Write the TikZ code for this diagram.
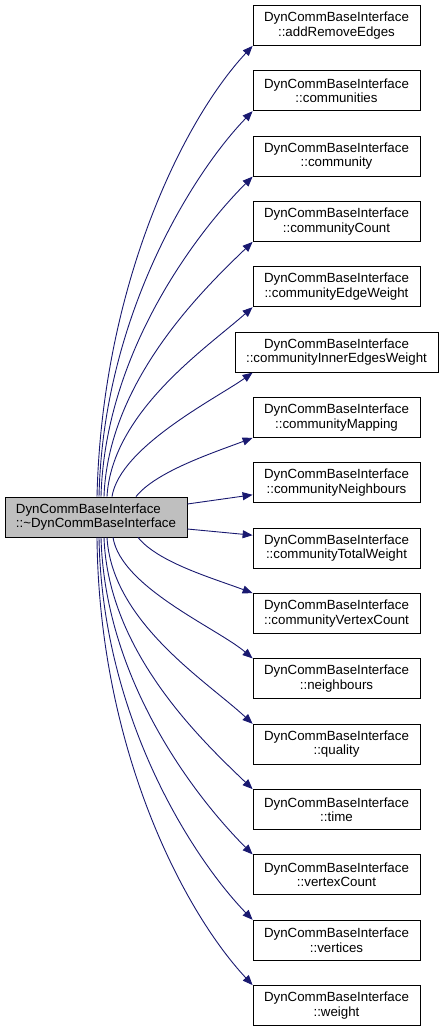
\documentclass[tikz,border=0pt]{standalone}
\usepackage{fontspec}
\setmainfont{Liberation Sans}
\usetikzlibrary{arrows.meta}
\definecolor{edgeblue}{HTML}{191970}
\definecolor{rootgray}{HTML}{BFBFBF}
\tikzset{
  fn/.style={draw=black, line width=0.8pt, fill=white, minimum width=167pt, minimum height=40pt, inner sep=0pt, align=center, font=\fontsize{13.3pt}{14.5pt}\selectfont},
  widefn/.style={fn, minimum width=203pt},
  rootfn/.style={fn, fill=rootgray, minimum width=182pt, align=left},
  edge/.style={draw=edgeblue, line width=0.9pt, -{Triangle[length=10pt,width=8pt]}},
}
\begin{document}
\begin{tikzpicture}[x=1pt,y=-1pt]
\useasboundingbox (0,0) rectangle (443,1032);
\node[rootfn] (L) at (96,517) {DynCommBaseInterface\\::\textasciitilde DynCommBaseInterface};
\node[fn] (t0) at (336.5,25.5) {DynCommBaseInterface\\::addRemoveEdges};
\node[fn] (t1) at (336.5,90.8) {DynCommBaseInterface\\::communities};
\node[fn] (t2) at (336.5,156.2) {DynCommBaseInterface\\::community};
\node[fn] (t3) at (336.5,221.5) {DynCommBaseInterface\\::communityCount};
\node[fn] (t4) at (336.5,286.8) {DynCommBaseInterface\\::communityEdgeWeight};
\node[widefn] (t5) at (336.5,352.2) {DynCommBaseInterface\\::communityInnerEdgesWeight};
\node[fn] (t6) at (336.5,417.5) {DynCommBaseInterface\\::communityMapping};
\node[fn] (t7) at (336.5,482.8) {DynCommBaseInterface\\::communityNeighbours};
\node[fn] (t8) at (336.5,548.2) {DynCommBaseInterface\\::communityTotalWeight};
\node[fn] (t9) at (336.5,613.5) {DynCommBaseInterface\\::communityVertexCount};
\node[fn] (t10) at (336.5,678.8) {DynCommBaseInterface\\::neighbours};
\node[fn] (t11) at (336.5,744.2) {DynCommBaseInterface\\::quality};
\node[fn] (t12) at (336.5,809.5) {DynCommBaseInterface\\::time};
\node[fn] (t13) at (336.5,874.8) {DynCommBaseInterface\\::vertexCount};
\node[fn] (t14) at (336.5,940.2) {DynCommBaseInterface\\::vertices};
\node[fn] (t15) at (336.5,1005.5) {DynCommBaseInterface\\::weight};
% upper fan
\draw[edge] ([xshift=1pt]L.north) .. controls +(5,-210) and +(-70,75) .. (t0.south west);
\draw[edge] ([xshift=3pt]L.north) .. controls +(4,-180) and +(-60,62) .. (t1.south west);
\draw[edge] ([xshift=5pt]L.north) .. controls +(4,-145) and +(-55,55) .. (t2.south west);
\draw[edge] ([xshift=8pt]L.north) .. controls +(4,-115) and +(-50,48) .. (t3.south west);
\draw[edge] ([xshift=11pt]L.north) .. controls +(5,-85) and +(-45,40) .. (t4.south west);
\draw[edge] ([xshift=16pt]L.north) .. controls +(8,-50) and +(-35,25) .. ([xshift=18pt]t5.south west);
\draw[edge] ([xshift=40pt]L.north) .. controls +(20,-25) and +(-40,15) .. (t6.south west);
\draw[edge] ([yshift=13pt]L.east) -- ([yshift=-12pt]t7.west);
\draw[edge] ([yshift=-12pt]L.east) -- ([yshift=13pt]t8.west);
% lower fan
\draw[edge] ([xshift=42pt]L.south) .. controls +(20,25) and +(-40,-15) .. (t9.north west);
\draw[edge] ([xshift=17pt]L.south) .. controls +(8,50) and +(-35,-30) .. (t10.north west);
\draw[edge] ([xshift=11pt]L.south) .. controls +(5,85) and +(-45,-42) .. (t11.north west);
\draw[edge] ([xshift=8pt]L.south) .. controls +(4,115) and +(-50,-48) .. (t12.north west);
\draw[edge] ([xshift=5pt]L.south) .. controls +(4,145) and +(-55,-55) .. (t13.north west);
\draw[edge] ([xshift=3pt]L.south) .. controls +(3,180) and +(-60,-62) .. (t14.north west);
\draw[edge] ([xshift=1pt]L.south) .. controls +(2,210) and +(-70,-75) .. (t15.north west);
\end{tikzpicture}
\end{document}
